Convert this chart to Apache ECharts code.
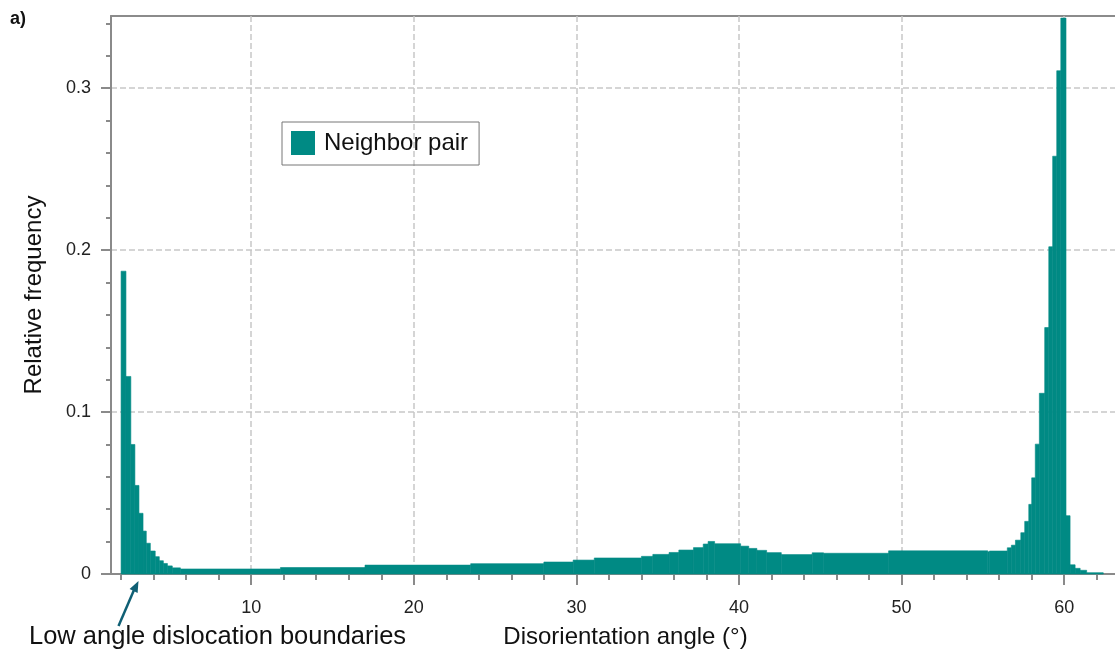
<!DOCTYPE html>
<html>
<head>
<meta charset="utf-8">
<title>Disorientation angle histogram</title>
<script src="https://cdn.jsdelivr.net/npm/echarts@6/dist/echarts.min.js"></script>
<style>
    body {
        margin: 0;
        background: #fff;
    }

    #myChart {
        width: 1115px;
        height: 662px;
    }
</style>
</head>
<body>
<div id="myChart"></div>
<script>
    // histogram: bin i goes from angleEdges[i] to angleEdges[i + 1]
    const angleEdges = [2.0, 2.3, 2.6, 2.85, 3.1, 3.35, 3.55, 3.8, 4.1, 4.35, 4.6, 4.85, 5.15, 5.65,
        11.8, 17.0, 23.5, 28.0, 29.8, 31.1, 34.0, 34.7, 35.7, 36.3, 37.2, 37.8, 38.1, 38.5,
        40.1, 40.6, 41.1, 41.7, 42.6, 44.5, 45.2, 49.2, 55.3, 55.4, 56.5, 56.75, 57.0, 57.33,
        57.57, 57.82, 58.0, 58.22, 58.47, 58.8, 59.05, 59.29, 59.54, 59.79, 60.11, 60.36,
        60.67, 60.98, 61.38, 62.4];
    const relFreq = [0.187, 0.122, 0.080, 0.0547, 0.0375, 0.0265, 0.019, 0.0142, 0.0107, 0.0082, 0.0065, 0.005, 0.0038, 0.0031,
        0.004, 0.0055, 0.0064, 0.0074, 0.0086, 0.0099, 0.0109, 0.0121, 0.0133, 0.0148, 0.0163, 0.0185, 0.0201, 0.0187,
        0.0172, 0.0158, 0.0146, 0.0132, 0.012, 0.0131, 0.0128, 0.0143, 0.0137, 0.0142, 0.0162, 0.0178, 0.0209, 0.0255,
        0.0325, 0.043, 0.0594, 0.0802, 0.1116, 0.1522, 0.2021, 0.258, 0.3108, 0.3433, 0.036, 0.0057,
        0.0035, 0.0023, 0.0008];

    const xMajorTicks = [10, 20, 30, 40, 50, 60];
    const xMinorTicks = [2, 4, 6, 8, 10, 12, 14, 16, 18, 20, 22, 24, 26, 28, 30, 32, 34, 36, 38, 40,
        42, 44, 46, 48, 50, 52, 54, 56, 58, 60, 62];
    const yMajorTicks = [0, 0.1, 0.2, 0.3];
    const yMinorTicks = [0, 0.02, 0.04, 0.06, 0.08, 0.1, 0.12, 0.14, 0.16, 0.18, 0.2, 0.22, 0.24,
        0.26, 0.28, 0.3, 0.32, 0.34];

    const teal = '#008a84';
    const axisGrey = '#8a8a8a';
    const font = "'Liberation Sans', Arial, sans-serif";

    let histData = [];
    for (let i = 0; i < relFreq.length; i++) {
        histData.push([angleEdges[i], angleEdges[i + 1], relFreq[i]]);
    }

    let myChart = echarts.init(document.getElementById('myChart'));
    let option = {
        animation: false,
        textStyle: {
            fontFamily: font
        },
        grid: {
            left: 111,
            width: 1009,
            top: 16,
            bottom: 88,
            outerBoundsMode: 'none',
            show: true,
            borderColor: '#666',
            borderWidth: 1.5
        },
        legend: {
            data: ['Neighbor pair'],
            left: 282,
            top: 122,
            padding: [9, 11, 10, 9],
            icon: 'rect',
            itemWidth: 24,
            itemHeight: 24,
            borderColor: '#777',
            borderWidth: 1,
            textStyle: {
                fontSize: 24,
                color: '#111',
                padding: [0, 0, 0, 4]
            }
        },
        xAxis: [
            {
                type: 'value',
                position: 'bottom',
                min: 1.38,
                max: 63.43,
                name: 'Disorientation angle (°)',
                nameLocation: 'middle',
                nameGap: 51,
                nameTextStyle: {
                    fontSize: 24,
                    color: '#111',
                    padding: [0, 0, 0, 20]
                },
                axisLine: {
                    lineStyle: { color: axisGrey, width: 2 }
                },
                axisTick: {
                    customValues: xMajorTicks,
                    length: 11,
                    lineStyle: { color: axisGrey, width: 2 }
                },
                axisLabel: {
                    customValues: xMajorTicks,
                    margin: 25,
                    fontSize: 18,
                    color: '#222'
                },
                splitLine: {
                    show: true,
                    lineStyle: { color: '#c8c8c8', type: [6, 3], width: 1.5 }
                }
            },
            {
                type: 'value',
                position: 'bottom',
                min: 1.38,
                max: 63.43,
                axisLine: { show: false },
                axisTick: {
                    customValues: xMinorTicks,
                    length: 6,
                    lineStyle: { color: axisGrey, width: 2 }
                },
                axisLabel: { show: false },
                splitLine: { show: false }
            }
        ],
        yAxis: [
            {
                type: 'value',
                position: 'left',
                min: 0,
                max: 0.3446,
                name: 'Relative frequency',
                nameLocation: 'middle',
                nameGap: 65,
                nameTextStyle: {
                    fontSize: 24,
                    color: '#111'
                },
                axisLine: {
                    show: true,
                    lineStyle: { color: axisGrey, width: 2 }
                },
                axisTick: {
                    show: true,
                    customValues: yMajorTicks,
                    length: 10,
                    lineStyle: { color: axisGrey, width: 2 }
                },
                axisLabel: {
                    customValues: yMajorTicks,
                    margin: 20,
                    fontSize: 18,
                    color: '#222'
                },
                splitLine: {
                    show: true,
                    lineStyle: { color: '#c8c8c8', type: [6, 3], width: 1.5 }
                }
            },
            {
                type: 'value',
                position: 'left',
                min: 0,
                max: 0.3446,
                axisLine: { show: false },
                axisTick: {
                    show: true,
                    customValues: yMinorTicks,
                    length: 5,
                    lineStyle: { color: axisGrey, width: 2 }
                },
                axisLabel: { show: false },
                splitLine: { show: false }
            }
        ],
        series: [
            {
                name: 'Neighbor pair',
                type: 'custom',
                xAxisIndex: 0,
                yAxisIndex: 0,
                itemStyle: { color: teal },
                encode: { x: [0, 1], y: 2 },
                data: histData,
                renderItem: function (params, api) {
                    let topLeft = api.coord([api.value(0), api.value(2)]);
                    let bottomRight = api.coord([api.value(1), 0]);
                    return {
                        type: 'rect',
                        shape: {
                            x: topLeft[0],
                            y: topLeft[1],
                            width: bottomRight[0] - topLeft[0],
                            height: bottomRight[1] - topLeft[1]
                        },
                        style: { fill: teal, stroke: teal, lineWidth: 0.6 }
                    };
                }
            }
        ],
        graphic: [
            {
                type: 'text',
                left: 10,
                top: 10,
                style: {
                    text: 'a)',
                    font: 'bold 18px ' + font,
                    fill: '#111'
                }
            },
            {
                type: 'text',
                left: 29,
                top: 624,
                style: {
                    text: 'Low angle dislocation boundaries',
                    font: '25.5px ' + font,
                    fill: '#111'
                }
            },
            {
                type: 'line',
                shape: { x1: 118.5, y1: 626, x2: 134, y2: 590 },
                style: { stroke: '#0f5f74', lineWidth: 2.5 }
            },
            {
                type: 'polygon',
                shape: { points: [[138.5, 581], [137.6, 593], [129.6, 589]] },
                style: { fill: '#0f5f74' }
            }
        ]
    };
    myChart.setOption(option);
</script>
</body>
</html>
